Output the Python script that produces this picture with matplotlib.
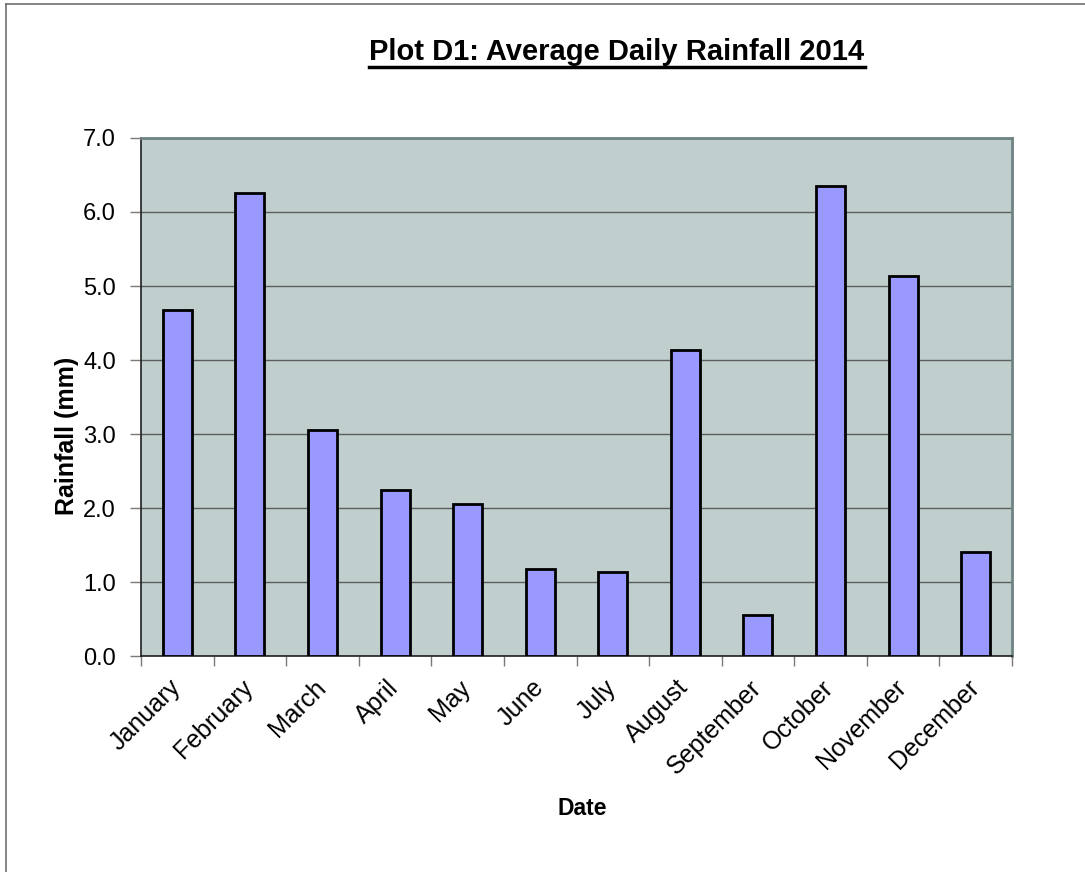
import matplotlib
matplotlib.use("Agg")
import matplotlib.pyplot as plt
from matplotlib.lines import Line2D
import matplotlib.transforms as mtransforms
import numpy as np

months = ["January", "February", "March", "April", "May", "June", "July",
          "August", "September", "October", "November", "December"]
rainfall = [4.68, 6.26, 3.05, 2.24, 2.05, 1.17, 1.14, 4.13, 0.55, 6.35, 5.14, 1.40]
y_ticks = [0.0, 1.0, 2.0, 3.0, 4.0, 5.0, 6.0, 7.0]

plt.rcParams['font.family'] = ['Liberation Sans', 'DejaVu Sans']

W, H = 1085, 872
fig = plt.figure(figsize=(W / 100, H / 100), dpi=100)
fig.patch.set_facecolor("white")

ax = fig.add_axes([141 / W, 1 - 656 / H, (1012 - 141) / W, (656 - 138) / H])
ax.set_facecolor("#C0CECE")

x = np.arange(len(months))
ax.bar(x, rainfall, width=0.4, color="#9999FF", edgecolor="black", linewidth=2, zorder=3)

ax.set_xlim(-0.5, len(months) - 0.5)
ax.set_ylim(0, 7)
ax.set_yticks(y_ticks)
ax.set_yticklabels([f"{v:.1f}" for v in y_ticks], fontsize=17)
ax.yaxis.grid(True, color="#5E5E5E", linewidth=1.0, zorder=1)
ax.set_axisbelow(True)

# category boundary ticks
ax.set_xticks(np.arange(-0.5, len(months) + 0.5, 1.0))
ax.set_xticklabels([])
ax.tick_params(axis="x", which="major", length=7, width=1, color="#7A7A7A")
ax.set_xticks(x, minor=True)
ax.set_xticklabels(months, minor=True, rotation=45, ha="right",
                   rotation_mode="anchor", fontsize=18)
ax.tick_params(axis="x", which="minor", length=0, pad=14)
for lbl in ax.get_xticklabels(minor=True):
    lbl.set_transform(lbl.get_transform() +
                      mtransforms.ScaledTranslation(-9 / 100, 0, fig.dpi_scale_trans))
ax.tick_params(axis="y", length=8, width=1, color="#7A7A7A", pad=10)

for side in ["left", "bottom"]:
    ax.spines[side].set_color("#202020")
    ax.spines[side].set_linewidth(1.2)
for side in ["top", "right"]:
    ax.spines[side].set_color("#6F8383")
    ax.spines[side].set_linewidth(2)

ax.set_ylabel("Rainfall (mm)", fontsize=18, fontweight="bold")
ax.yaxis.set_label_coords(67 / W, 0.5, transform=fig.transFigure)
ax.yaxis.label.set_va("center")
fig.text(582 / W, 1 - 808 / H, "Date", fontsize=16.5, fontweight="bold",
         ha="center", va="center")

# title with underline
title = fig.text(617 / W, 1 - 52 / H, "Plot D1: Average Daily Rainfall 2014",
                 fontsize=21, fontweight="bold", ha="center", va="center")
fig.canvas.draw()
bb = title.get_window_extent()
uy = 1 - 67 / H
fig.add_artist(Line2D([bb.x0 / W, bb.x1 / W], [uy, uy], transform=fig.transFigure,
                      color="black", linewidth=2.5))

# outer chart border (left and top visible)
fig.add_artist(Line2D([6 / W, 6 / W], [0, 1 - 4 / H], transform=fig.transFigure,
                      color="#707070", linewidth=1.2))
fig.add_artist(Line2D([6 / W, 1], [1 - 4 / H, 1 - 4 / H], transform=fig.transFigure,
                      color="#707070", linewidth=1.2))

fig.savefig("out.png", dpi=100, facecolor="white")
